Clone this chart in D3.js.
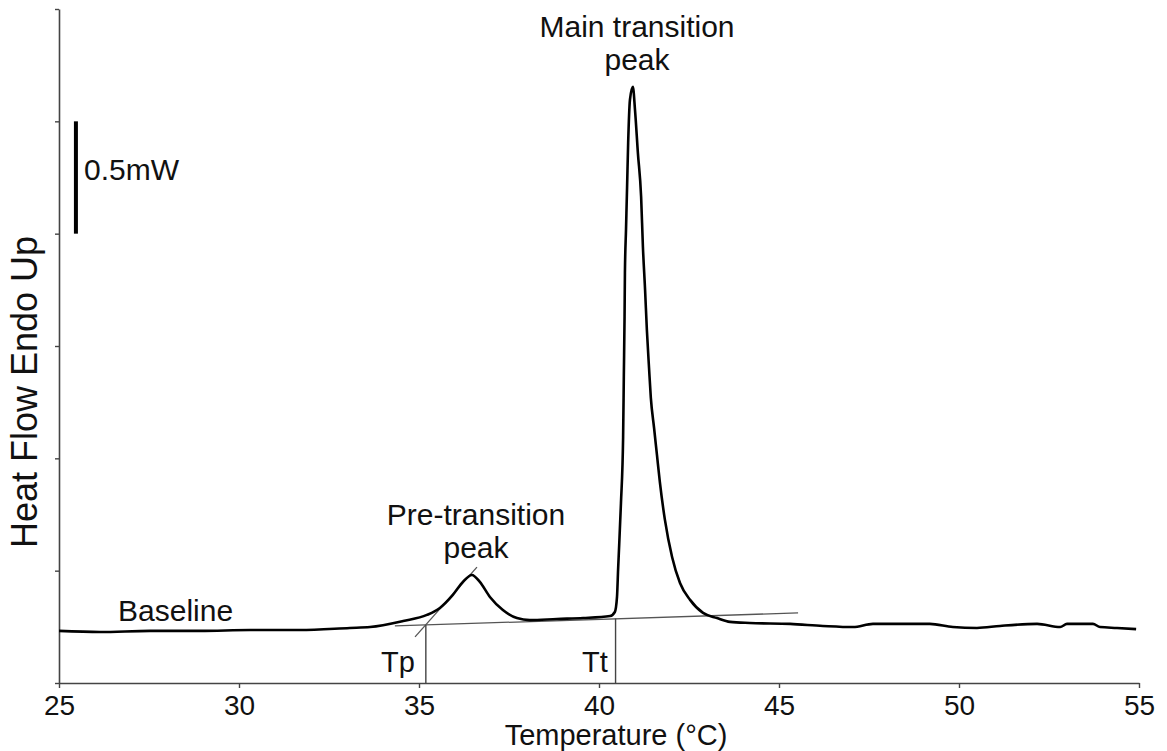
<!DOCTYPE html>
<html>
<head>
<meta charset="utf-8">
<script src="https://cdn.jsdelivr.net/npm/d3@7"></script>
<style>
  html, body { margin: 0; padding: 0; background: #fff; }
  svg { display: block; }
  text { font-family: "Liberation Sans", Arial, sans-serif; fill: #111; }
</style>
</head>
<body>
<svg id="chart" width="1167" height="751"></svg>
<script>
// ---- Data ----
const temperature = [25.00, 26.14, 27.53, 28.92, 30.31, 31.69, 33.08, 33.64, 34.56, 35.22,
  35.58, 35.94, 36.22, 36.47, 36.69, 36.97, 37.33, 37.72, 38.08, 38.83,
  39.56, 40.31, 40.44, 40.50, 40.53, 40.61, 40.67, 40.69, 40.71, 40.72,
  40.75, 40.78, 40.81, 40.86, 40.94, 41.00, 41.08, 41.17, 41.22, 41.28,
  41.33, 41.39, 41.44, 41.53, 41.61, 41.69, 41.83, 42.03, 42.25, 42.53, 42.89,
  43.28, 43.64, 44.19, 45.31, 46.22, 47.06, 47.61, 49.19, 49.83, 50.50,
  51.14, 52.17, 52.81, 53.00, 53.72, 53.92, 54.39, 54.92];
const heatFlow = [0.232, 0.227, 0.232, 0.232, 0.236, 0.236, 0.245, 0.249, 0.276, 0.303,
  0.334, 0.392, 0.450, 0.481, 0.450, 0.383, 0.325, 0.289, 0.280, 0.285,
  0.289, 0.298, 0.316, 0.383, 0.503, 0.801, 1.095, 1.371, 1.630, 1.825,
  2.017, 2.208, 2.404, 2.596, 2.654, 2.551, 2.360, 2.164, 1.941, 1.750,
  1.571, 1.402, 1.269, 1.135, 1.015, 0.895, 0.727, 0.561, 0.445, 0.370, 0.312,
  0.289, 0.272, 0.267, 0.263, 0.254, 0.249, 0.263, 0.263, 0.249, 0.245,
  0.254, 0.263, 0.249, 0.263, 0.263, 0.249, 0.245, 0.240];

const xTicks = [25, 30, 35, 40, 45, 50, 55];
const yTicks = [0, 0.5, 1.0, 1.5, 2.0, 2.5, 3.0];

// Baseline tangent (temperature, heat flow) and onset tangent at Tp
const baselineTangent = [[34.33, 0.254], [45.53, 0.312]];
const onsetTangent = [[34.89, 0.205], [36.61, 0.516]];
// Onset markers: temperature and top value of the drop line
const onsetNames = ["Tp", "Tt"];
const onsetTemps = [35.19, 40.46];
const onsetTops = [0.258, 0.287];
// Scale bar: 0.5 mW
const scaleBarTemp = 25.47;
const scaleBarRange = [2.0, 2.5];

// ---- Layout ----
const svg = d3.select("#chart");
const x = d3.scaleLinear().domain([25, 55]).range([59, 1139]);
const y = d3.scaleLinear().domain([0, 3]).range([683, 9]);

const axisColor = "#444";

// X axis
const gx = svg.append("g").attr("transform", `translate(0,${y(0)})`)
  .call(d3.axisBottom(x).tickValues(xTicks).tickSize(5).tickSizeOuter(0).tickPadding(6)
    .tickFormat(d3.format("d")));
gx.select(".domain").attr("stroke", axisColor).attr("stroke-width", 1.6);
gx.selectAll(".tick line").attr("stroke", axisColor).attr("stroke-width", 1.4);
gx.selectAll(".tick text").attr("font-size", 28).attr("fill", "#111")
  .attr("font-family", "Liberation Sans, Arial, sans-serif").attr("dy", "0.75em");

// Y axis
const gy = svg.append("g").attr("transform", `translate(${x(25)},0)`)
  .call(d3.axisLeft(y).tickValues(yTicks).tickSize(4).tickSizeOuter(0).tickFormat(""));
gy.select(".domain").attr("stroke", axisColor).attr("stroke-width", 1.6);
gy.selectAll(".tick line").attr("stroke", axisColor).attr("stroke-width", 1.4);

// Axis titles
svg.append("text").attr("x", 616).attr("y", 745).attr("text-anchor", "middle")
  .attr("font-size", 29).text("Temperature (°C)");
svg.append("text").attr("transform", `translate(37,392) rotate(-90)`)
  .attr("text-anchor", "middle").attr("font-size", 36).text("Heat Flow Endo Up");

// Scale bar
svg.append("line")
  .attr("x1", x(scaleBarTemp)).attr("x2", x(scaleBarTemp))
  .attr("y1", y(scaleBarRange[0])).attr("y2", y(scaleBarRange[1]))
  .attr("stroke", "#000").attr("stroke-width", 4);
svg.append("text").attr("x", 84).attr("y", 180).attr("font-size", 30).text("0.5mW");

// Tangent lines
const lineGen = d3.line().x(d => x(d[0])).y(d => y(d[1]));
svg.append("path").attr("d", lineGen(baselineTangent))
  .attr("fill", "none").attr("stroke", "#555").attr("stroke-width", 1.3);
svg.append("path").attr("d", lineGen(onsetTangent))
  .attr("fill", "none").attr("stroke", "#555").attr("stroke-width", 1.3);

// Onset drop lines
onsetTemps.forEach((t, i) => {
  svg.append("line").attr("x1", x(t)).attr("x2", x(t))
    .attr("y1", y(0)).attr("y2", y(onsetTops[i]))
    .attr("stroke", "#444").attr("stroke-width", 1.4);
});

// Curve
const pts = temperature.map((t, i) => [t, heatFlow[i]]);
svg.append("path")
  .attr("d", d3.line().x(d => x(d[0])).y(d => y(d[1])).curve(d3.curveMonotoneX)(pts))
  .attr("fill", "none").attr("stroke", "#000").attr("stroke-width", 2.6)
  .attr("stroke-linejoin", "round");

// Annotations
svg.append("text").attr("x", 398).attr("y", 672).attr("text-anchor", "middle")
  .attr("font-size", 29).text(onsetNames[0]);
svg.append("text").attr("x", 595).attr("y", 672).attr("text-anchor", "middle")
  .attr("font-size", 29).text(onsetNames[1]);
svg.append("text").attr("x", 118).attr("y", 621).attr("font-size", 30).text("Baseline");

const pre = svg.append("text").attr("text-anchor", "middle").attr("font-size", 30);
pre.append("tspan").attr("x", 476).attr("y", 525).text("Pre-transition");
pre.append("tspan").attr("x", 476).attr("y", 558).text("peak");

const main = svg.append("text").attr("text-anchor", "middle").attr("font-size", 30);
main.append("tspan").attr("x", 637).attr("y", 37).text("Main transition");
main.append("tspan").attr("x", 637).attr("y", 70).text("peak");
</script>
</body>
</html>
